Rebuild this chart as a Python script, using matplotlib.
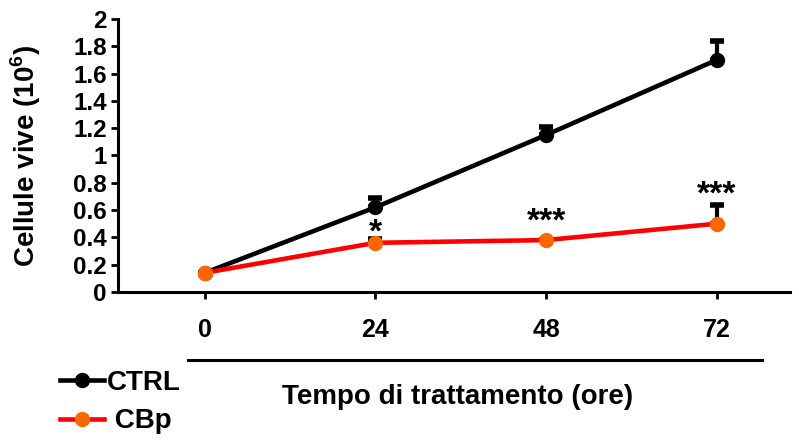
import numpy as np
import matplotlib
matplotlib.use('Agg')
import matplotlib.pyplot as plt
from matplotlib.lines import Line2D

plt.rcParams['font.family'] = ['Liberation Sans', 'DejaVu Sans']
plt.rcParams['font.weight'] = 'bold'
plt.rcParams['mathtext.fontset'] = 'custom'
plt.rcParams['mathtext.rm'] = 'Liberation Sans:bold'
plt.rcParams['mathtext.bf'] = 'Liberation Sans:bold'

# Data
hours = [0, 24, 48, 72]
ctrl = [0.14, 0.62, 1.15, 1.70]
ctrl_err = [0.0, 0.07, 0.06, 0.14]
cbp = [0.14, 0.36, 0.38, 0.50]
cbp_err = [0.0, 0.03, 0.0, 0.14]
stars = ['', '*', '***', '***']
star_y = [0, 0.43, 0.51, 0.71]

fig = plt.figure(figsize=(7.99, 4.41), dpi=100)
ax = fig.add_axes([0.1477, 0.338, 0.841, 0.619])

ax.errorbar(hours, ctrl, yerr=[np.zeros(4), ctrl_err], fmt='none',
            ecolor='black', elinewidth=3, capsize=5, capthick=4, zorder=2)
ax.errorbar(hours, cbp, yerr=[np.zeros(4), cbp_err], fmt='none',
            ecolor='black', elinewidth=3, capsize=5, capthick=4, zorder=2)
ax.plot(hours, ctrl, color='black', lw=3.3, marker='o', ms=10,
        mfc='black', mec='black', zorder=3, label='CTRL')
ax.plot(hours, cbp, color='#FF0000', lw=3.3, marker='o', ms=10,
        mfc='#FF6600', mec='#FF6600', zorder=4, label=' CBp')

for x, s, y in zip(hours, stars, star_y):
    if s:
        ax.text(x, y, s, ha='center', va='center', fontsize=24, fontweight='bold')

ax.set_xlim(-12.2, 82.3)
ax.set_ylim(0, 2)
ax.set_yticks(np.arange(0, 2.01, 0.2))
ax.set_yticklabels(['0', '0.2', '0.4', '0.6', '0.8', '1', '1.2', '1.4', '1.6', '1.8', '2'])
ax.set_xticks(hours)
ax.set_xticklabels([str(h) for h in hours])

for side in ['top', 'right']:
    ax.spines[side].set_visible(False)
for side in ['left', 'bottom']:
    ax.spines[side].set_linewidth(2.2)

ax.tick_params(axis='y', labelsize=17.5, width=2, length=5, pad=3)
ax.tick_params(axis='x', labelsize=18, width=2, length=5, pad=14)

ax.set_ylabel('Cellule vive (10$^{6}$)', fontsize=20, fontweight='bold')
ax.yaxis.set_label_coords(-0.111, 0.5)

# horizontal bar under the tick labels
fig.add_artist(Line2D([188 / 799, 762 / 799], [1 - 360 / 441, 1 - 360 / 441],
                      color='black', lw=2.2))
fig.text(458 / 799, 1 - 397 / 441, 'Tempo di trattamento (ore)', ha='center',
         va='center', fontsize=20, fontweight='bold')

fig.legend(loc='upper left', bbox_to_anchor=(0.075, 1 - 370 / 441), frameon=False,
           fontsize=20, handlelength=1.6, handletextpad=0.1, labelspacing=0.45,
           borderaxespad=0, borderpad=0)

fig.savefig('out.png', dpi=100)
